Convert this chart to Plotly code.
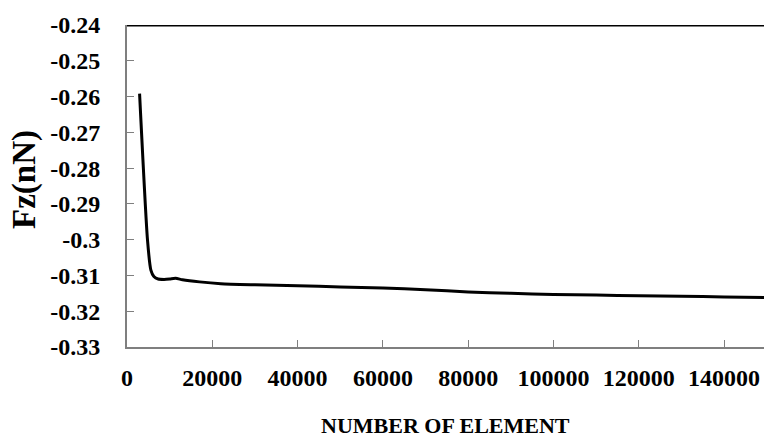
import plotly.graph_objects as go

# Mesh convergence: vertical force vs. number of elements
elements = [2950, 4800, 5600, 6300, 7300, 8700, 10000, 11400, 13000, 17000,
            22000, 30000, 40000, 50000, 60000, 70000, 80000, 90000, 100000,
            110000, 120000, 130000, 140000, 150000]
fz = [-0.2592, -0.3000, -0.3085, -0.3103, -0.3110, -0.3111, -0.3110, -0.3108,
      -0.3112, -0.3118, -0.3123, -0.3126, -0.3129, -0.3132, -0.3135, -0.3140,
      -0.3146, -0.3150, -0.3153, -0.3155, -0.3157, -0.3158, -0.3160, -0.3162]

x_ticks = [0, 20000, 40000, 60000, 80000, 100000, 120000, 140000]
y_ticks = [-0.33, -0.32, -0.31, -0.3, -0.29, -0.28, -0.27, -0.26, -0.25, -0.24]
y_tick_text = ["-0.33", "-0.32", "-0.31", "-0.3", "-0.29", "-0.28", "-0.27",
               "-0.26", "-0.25", "-0.24"]

font_family = "Liberation Serif"

fig = go.Figure()
fig.add_trace(go.Scatter(
    x=elements, y=fz, mode="lines",
    line=dict(color="black", width=3, shape="spline", smoothing=0.6),
    showlegend=False, hoverinfo="skip",
))

axis_common = dict(
    showgrid=False, zeroline=False,
    showline=True, linecolor="#7f7f7f", linewidth=2,
    ticks="inside", ticklen=7, tickwidth=1, tickcolor="#7f7f7f",
    tickfont=dict(family=font_family, size=24, color="black"),
)

fig.update_xaxes(range=[0, 149350], tickvals=x_ticks,
                 ticktext=[f"<b>{v}</b>" for v in x_ticks],
                 ticklabelstandoff=8, **axis_common)
fig.update_yaxes(range=[-0.33, -0.24], tickvals=y_ticks,
                 ticktext=[f"<b>{t}</b>" for t in y_tick_text],
                 ticklabelstandoff=20, **axis_common)

# Top frame line at the upper bound of the force axis
fig.add_shape(type="line", xref="paper", x0=0, x1=1, yref="y",
              y0=-0.24, y1=-0.24, line=dict(color="black", width=3))

fig.add_annotation(text="<b>NUMBER OF ELEMENT</b>", xref="paper", yref="paper",
                   x=0.5, y=0, xanchor="center", yanchor="top", yshift=-64,
                   showarrow=False,
                   font=dict(family=font_family, size=22, color="black"))
fig.add_annotation(text="<b>Fz(nN)</b>", xref="paper", yref="paper",
                   x=0, y=0.5, xanchor="center", yanchor="middle",
                   xshift=-103, yshift=6, textangle=-90, showarrow=False,
                   font=dict(family=font_family, size=33, color="black"))

fig.update_layout(
    width=764, height=437,
    margin=dict(l=127, r=0, t=25, b=90),
    plot_bgcolor="white", paper_bgcolor="white",
    font=dict(family=font_family),
)

fig.write_html("out.html")
